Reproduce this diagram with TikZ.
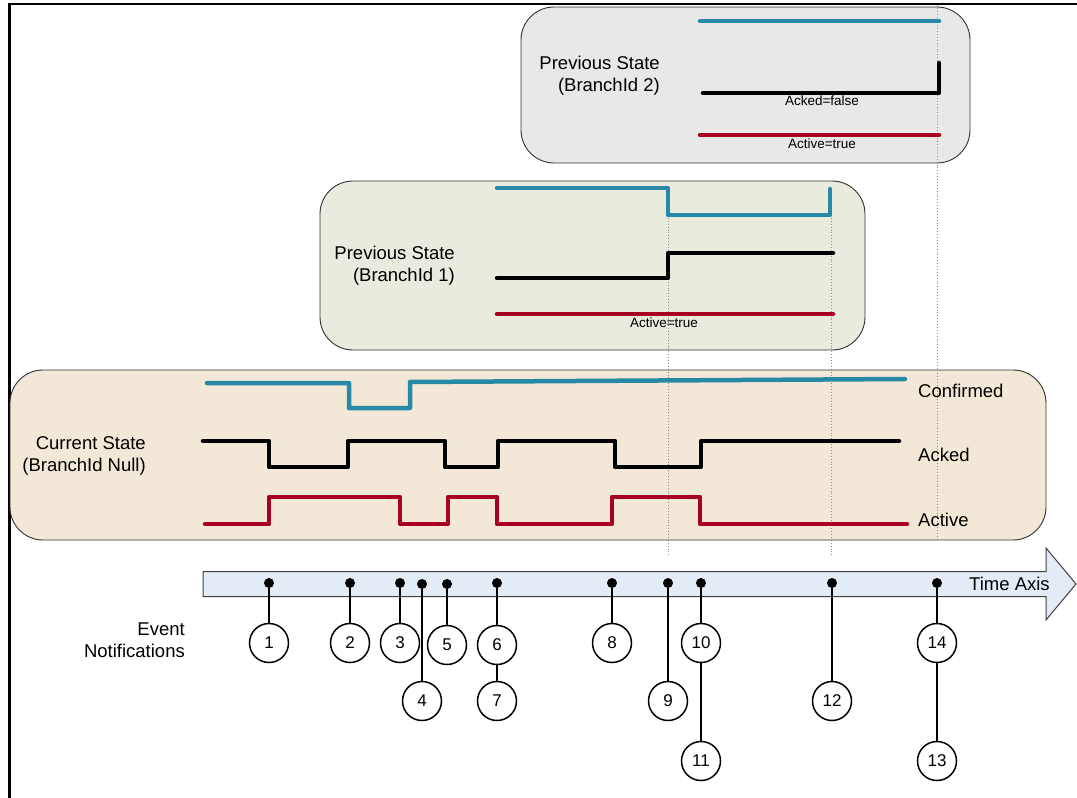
\documentclass[tikz,border=0pt]{standalone}
\usepackage{fontspec}
\setmainfont{Liberation Sans}
\definecolor{sigteal}{RGB}{40,137,166}
\definecolor{sigred}{RGB}{168,0,32}
\definecolor{boxgray}{RGB}{232,232,232}
\definecolor{boxgreen}{RGB}{232,235,222}
\definecolor{boxbeige}{RGB}{243,232,215}
\definecolor{axisblue}{RGB}{227,235,247}
\begin{document}
\begin{tikzpicture}[x=1pt,y=-1pt,
  statebox/.style={draw=black!80, line width=0.9pt, rounded corners=33pt, inner sep=0pt},
  sig/.style={line width=4.5pt, line cap=round, line join=round},
  lbl/.style={font=\fontsize{18.5}{22}\selectfont, align=right, anchor=east, inner sep=0pt},
  rlbl/.style={font=\fontsize{18.5}{22}\selectfont, anchor=west, inner sep=0pt},
  smalllbl/.style={font=\fontsize{13.5}{16}\selectfont, inner sep=0pt},
  evdot/.style={circle, fill=black, inner sep=0pt, minimum size=10pt},
  ev/.style={circle, draw, line width=1.5pt, minimum size=39pt, inner sep=0pt, fill=white, font=\fontsize{17}{19}\selectfont},
  conn/.style={line width=2pt},
  guide/.style={dotted, draw=black!45, line width=0.9pt}]
\useasboundingbox (0,0) rectangle (1077,798);
\fill[white] (0,0) rectangle (1077,798);

% frame
\draw[line width=2.5pt] (9.5,798) -- (9.5,4) -- (1077,4);

% state boxes
\node[statebox, fill=boxgray, minimum width=449pt, minimum height=156pt] (prev2) at (745.5,85) {};
\node[statebox, fill=boxgreen, minimum width=545pt, minimum height=169pt] (prev1) at (592.5,265.5) {};
\node[statebox, fill=boxbeige, minimum width=1036pt, minimum height=170pt] (cur) at (528,455) {};

% guides
\draw[guide] (937,5) -- (937,541);
\draw[guide] (668,215) -- (668,557);
\draw[guide] (831,215) -- (831,557);

% box titles
\node[lbl] (t2) at (660,76) {Previous State\\(BranchId 2)};
\node[lbl] (t1) at (455,265.5) {Previous State\\(BranchId 1)};
\node[lbl] (t0) at (146,455.5) {Current State\\(BranchId Null)};

% Previous State (BranchId 2)
\draw[sig, sigteal] (700,21) -- (939,21);
\draw[sig, black] (703,93) -- (939,93) -- (939,63);
\draw[sig, sigred] (700,135) -- (939,135);
\node[smalllbl] (ack2) at (822,101) {Acked=false};
\node[smalllbl] (act2) at (822,144) {Active=true};

% Previous State (BranchId 1)
\draw[sig, sigteal] (497,188) -- (668,188) -- (668,215) -- (830,215) -- (830,189);
\draw[sig, black] (497,278) -- (668,278) -- (668,253) -- (833,253);
\draw[sig, sigred] (497,314) -- (833,314);
\node[smalllbl] (act1) at (664,323) {Active=true};

% Current State
\draw[sig, sigteal] (207,383) -- (349,383) -- (349,408) -- (410,408) -- (410,382) -- (905,379);
\draw[sig, black] (203,441) -- (269,441) -- (269,467) -- (348,467) -- (348,441) -- (445,441) -- (445,467) -- (498,467) -- (498,441) -- (615,441) -- (615,467) -- (701,467) -- (701,441) -- (899,441);
\draw[sig, sigred] (205,524) -- (269,524) -- (269,497) -- (400,497) -- (400,524) -- (448,524) -- (448,497) -- (497,497) -- (497,524) -- (612,524) -- (612,497) -- (700,497) -- (700,524) -- (907,524);
\node[rlbl] (lconf) at (918,391) {Confirmed};
\node[rlbl] (lack) at (918,455) {Acked};
\node[rlbl] (lact) at (918,520) {Active};

% time axis
\draw[fill=axisblue, draw=black!75, line width=1pt, line join=miter]
  (203,571.5) -- (1046,571.5) -- (1046,548) -- (1076,584) -- (1046,620) -- (1046,596.5) -- (203,596.5) -- cycle;
\node[rlbl] (taxis) at (969,584) {Time Axis};

\node[font=\fontsize{18.5}{22}\selectfont, align=right, anchor=east, inner sep=0pt] (evn) at (185,640) {Event\\Notifications};

% event dots
\node[evdot] (d1) at (269,583) {};
\node[evdot] (d2) at (350,583) {};
\node[evdot] (d3) at (400,583) {};
\node[evdot] (d4) at (422,584) {};
\node[evdot] (d5) at (447,584) {};
\node[evdot] (d6) at (497,583) {};
\node[evdot] (d8) at (612,583) {};
\node[evdot] (d9) at (668,583) {};
\node[evdot] (d10) at (701,583) {};
\node[evdot] (d12) at (832,583) {};
\node[evdot] (d14) at (937,583) {};

% event circles
\node[ev] (e1) at (269,643) {1};
\node[ev] (e2) at (350,643) {2};
\node[ev] (e3) at (400,643) {3};
\node[ev] (e5) at (447,645) {5};
\node[ev] (e6) at (497,645) {6};
\node[ev] (e8) at (612,643) {8};
\node[ev] (e10) at (701,643) {10};
\node[ev] (e14) at (937,643) {14};
\node[ev] (e4) at (422,701) {4};
\node[ev] (e7) at (497,701) {7};
\node[ev] (e9) at (668,701) {9};
\node[ev] (e12) at (832,701) {12};
\node[ev] (e11) at (701,761) {11};
\node[ev] (e13) at (937,761) {13};

% connectors
\draw[conn] (d1) -- (e1);
\draw[conn] (d2) -- (e2);
\draw[conn] (d3) -- (e3);
\draw[conn] (d4) -- (e4);
\draw[conn] (d5) -- (e5);
\draw[conn] (d6) -- (e6);
\draw[conn] (e6) -- (e7);
\draw[conn] (d8) -- (e8);
\draw[conn] (d9) -- (e9);
\draw[conn] (d10) -- (e10);
\draw[conn] (e10) -- (e11);
\draw[conn] (d12) -- (e12);
\draw[conn] (d14) -- (e14);
\draw[conn] (e14) -- (e13);
\end{tikzpicture}
\end{document}
